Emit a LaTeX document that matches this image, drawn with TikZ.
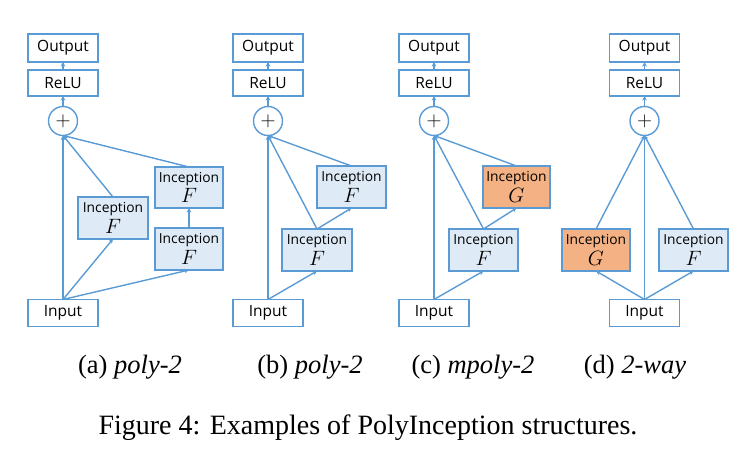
\documentclass[tikz,border=0pt]{standalone}
\usepackage{fontspec}
\setmainfont{Liberation Serif}
\newfontfamily\diafont{Open Sans}
\usetikzlibrary{arrows.meta}
\definecolor{lineblue}{HTML}{5B9BD5}
\definecolor{fillblue}{HTML}{DEEBF7}
\definecolor{fillorange}{HTML}{F4B183}
\begin{document}
\begin{tikzpicture}[x=1pt,y=-1pt,
  every node/.style={inner sep=0pt,outer sep=0pt},
  plainbox/.style={draw=lineblue,line width=1.4pt,fill=white,font=\diafont\fontsize{15.5}{17}\selectfont},
  incbox/.style={draw=lineblue,line width=1.4pt,fill=fillblue,align=center},
  orgbox/.style={incbox,fill=fillorange},
  addnode/.style={draw=lineblue,line width=1.4pt,fill=white,circle,minimum size=29pt,font=\fontsize{20}{20}\selectfont},
  conn/.style={draw=lineblue,line width=1.4pt,-{Stealth[length=4.5pt,width=4.5pt]}},
  capt/.style={font=\fontsize{26.5}{28}\selectfont},
  figcapt/.style={font=\fontsize{28}{30}\selectfont}
]
\useasboundingbox (0,0) rectangle (744,460);
\newcommand{\inctext}[1]{{\diafont\fontsize{13.8}{15}\selectfont Inception}\\[2pt]{\fontsize{20}{20}\selectfont$#1$}}

% ---- panel (a)
\node[plainbox,minimum width=70pt,minimum height=28pt] (aout) at (63,48) {Output};
\node[plainbox,minimum width=70pt,minimum height=26pt] (arelu) at (63,83) {ReLU};
\node[addnode] (aplus) at (63,121) {$+$};
\node[plainbox,minimum width=70pt,minimum height=27pt] (ain) at (63,313) {Input};
\node[incbox,minimum width=70pt,minimum height=42pt] (af1) at (113,218) {\inctext{F}};
\node[incbox,minimum width=68pt,minimum height=41pt] (af2) at (189,187.5) {\inctext{F}};
\node[incbox,minimum width=68pt,minimum height=42pt] (af3) at (189,249) {\inctext{F}};
\draw[conn] (arelu) -- (aout);
\draw[conn] (aplus) -- (arelu);
\draw[conn] (ain.north) -- (aplus.south);
\draw[conn] (ain.north) -- (af1.south);
\draw[conn] (af1.north) -- (aplus.south);
\draw[conn] (ain.north) -- (af3.south);
\draw[conn] (af3) -- (af2);
\draw[conn] (af2.north) -- (aplus.south);

% ---- panel (b)
\node[plainbox,minimum width=70pt,minimum height=28pt] (bout) at (268,48) {Output};
\node[plainbox,minimum width=70pt,minimum height=26pt] (brelu) at (268,83) {ReLU};
\node[addnode] (bplus) at (268,121) {$+$};
\node[plainbox,minimum width=70pt,minimum height=27pt] (bin) at (268,313) {Input};
\node[incbox,minimum width=70pt,minimum height=42pt] (bf1) at (317,250) {\inctext{F}};
\node[incbox,minimum width=69pt,minimum height=42pt] (bf2) at (351.5,187) {\inctext{F}};
\draw[conn] (brelu) -- (bout);
\draw[conn] (bplus) -- (brelu);
\draw[conn] (bin.north) -- (bplus.south);
\draw[conn] (bin.north) -- (bf1.south);
\draw[conn] (bf1.north) -- (bplus.south);
\draw[conn] (bf1.north) -- (bf2.south);
\draw[conn] (bf2.north) -- (bplus.south);

% ---- panel (c)
\node[plainbox,minimum width=70pt,minimum height=28pt] (cout) at (434,48) {Output};
\node[plainbox,minimum width=70pt,minimum height=26pt] (crelu) at (434,83) {ReLU};
\node[addnode] (cplus) at (434,121) {$+$};
\node[plainbox,minimum width=70pt,minimum height=27pt] (cin) at (434,313) {Input};
\node[incbox,minimum width=69pt,minimum height=42pt] (cf) at (483.5,250) {\inctext{F}};
\node[orgbox,minimum width=67pt,minimum height=42pt] (cg) at (516.5,187) {\inctext{G}};
\draw[conn] (crelu) -- (cout);
\draw[conn] (cplus) -- (crelu);
\draw[conn] (cin.north) -- (cplus.south);
\draw[conn] (cin.north) -- (cf.south);
\draw[conn] (cf.north) -- (cplus.south);
\draw[conn] (cf.north) -- (cg.south);
\draw[conn] (cg.north) -- (cplus.south);

% ---- panel (d)
\node[plainbox,minimum width=70pt,minimum height=28pt] (dout) at (644.5,48) {Output};
\node[plainbox,minimum width=70pt,minimum height=26pt] (drelu) at (644.5,83) {ReLU};
\node[addnode] (dplus) at (644.5,121) {$+$};
\node[plainbox,minimum width=70pt,minimum height=27pt] (din) at (644.5,313) {Input};
\node[orgbox,minimum width=68pt,minimum height=42pt] (dg) at (596,250) {\inctext{G}};
\node[incbox,minimum width=69pt,minimum height=42pt] (df) at (693.5,250) {\inctext{F}};
\draw[conn] (drelu) -- (dout);
\draw[conn] (dplus) -- (drelu);
\draw[conn] (din.north) -- (dplus.south);
\draw[conn] (din.north) -- (dg.south);
\draw[conn] (din.north) -- (df.south);
\draw[conn] (dg.north) -- (dplus.south);
\draw[conn] (df.north) -- (dplus.south);

% ---- captions
\node[capt] (capa) at (130,367) {(a) \textit{poly-2}};
\node[capt] (capb) at (310,367) {(b) \textit{poly-2}};
\node[capt] (capc) at (473,367) {(c) \textit{mpoly-2}};
\node[capt] (capd) at (635,367) {(d) \textit{2-way}};
\node[figcapt] (capfig) at (368,428) {Figure 4: Examples of PolyInception structures.};
\end{tikzpicture}
\end{document}
